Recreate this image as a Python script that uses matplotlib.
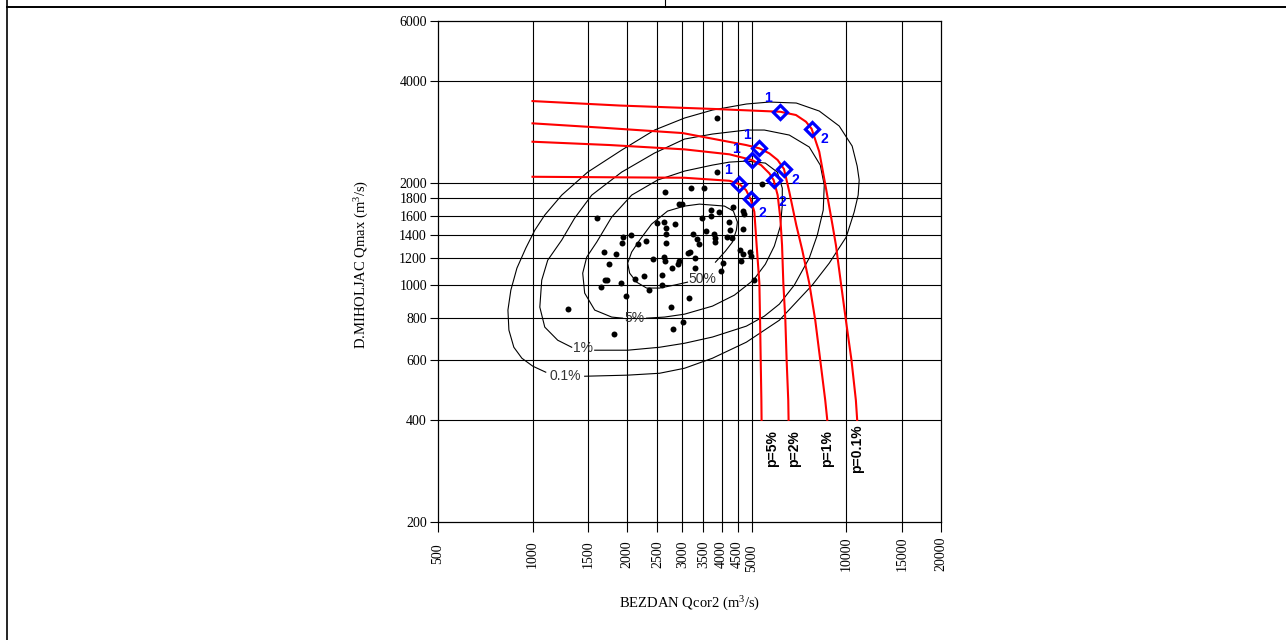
import matplotlib
matplotlib.use("Agg")
import matplotlib.pyplot as plt
from matplotlib.lines import Line2D
from matplotlib.ticker import NullLocator, FixedLocator, FixedFormatter

plt.rcParams['mathtext.fontset'] = 'custom'
plt.rcParams['mathtext.rm'] = 'Liberation Serif'

# ---------------- data ----------------
x_ticks = [500, 1000, 1500, 2000, 2500, 3000, 3500, 4000, 4500, 5000, 10000, 15000, 20000]
y_ticks = [200, 400, 600, 800, 1000, 1200, 1400, 1600, 1800, 2000, 4000, 6000]
x_grid = [1000, 1500, 2000, 2500, 3000, 3500, 4000, 4500, 5000, 10000, 15000]
y_grid = [400, 600, 800, 1000, 1200, 1400, 1600, 1800, 2000, 4000]

# observed pairs (BEZDAN Qcor2, D.MIHOLJAC Qmax)
obs_x = [3881, 3881, 5397, 2634, 3209, 3529, 2938, 3004, 3715, 3939, 4363, 4694, 4728,
         1601, 3477, 3715, 4238, 2484, 2615, 2833, 2653, 4268, 4694, 2653, 3581, 3256,
         3797, 3825, 3825, 3341, 4176, 4331, 1936, 2054, 1923, 2292, 2161, 2653, 3402,
         1685, 1840, 4592, 4694, 4941, 4978, 2412, 2615, 2643, 3117, 3174, 2938, 2911,
         2786, 3304, 3304, 4056, 4609, 1748, 1697, 1729, 1649, 1918, 2115, 2262, 2592,
         3988, 5088, 1990, 2343, 2576, 3146, 2762, 3011, 2798, 1817, 1298]
obs_y = [3105, 2151, 1983, 1878, 1929, 1929, 1731, 1731, 1662, 1640, 1696, 1651, 1618,
         1574, 1574, 1599, 1535, 1521, 1532, 1511, 1470, 1450, 1460, 1412, 1440, 1412,
         1417, 1379, 1340, 1368, 1384, 1374, 1386, 1402, 1331, 1347, 1319, 1328, 1319,
         1250, 1233, 1271, 1233, 1254, 1219, 1192, 1210, 1179, 1244, 1250, 1179, 1150,
         1120, 1200, 1121, 1162, 1175, 1150, 1033, 1033, 988, 1010, 1040, 1062, 1071,
         1100, 1033, 928, 965, 1002, 915, 862, 778, 741, 715, 847]

# joint-probability contours (traced)
c50_x = [3825, 4116, 4331, 4460, 4493, 4363, 4086, 3742, 3402, 3049, 2692, 2394, 2194,
         2069, 2009, 2039, 2146, 2308, 2539, 2833, 3117]
c50_y = [1167, 1258, 1337, 1450, 1532, 1651, 1708, 1719, 1731, 1708, 1651, 1511, 1356,
         1250, 1159, 1083, 1019, 979, 979, 999, 1019]
c5_x = [2308, 2634, 3049, 3742, 4395, 5051, 5515, 5891, 6157, 6246, 6246, 6021, 5515,
        4799, 4238, 3742, 3049, 2502, 2069, 1787, 1601, 1488, 1445, 1466, 1578, 1787, 1936]
c5_y = [798, 804, 820, 866, 933, 1033, 1151, 1302, 1491, 1719, 1929, 2151, 2287,
        2318, 2302, 2256, 2166, 2038, 1840, 1585, 1337, 1208, 1083, 946, 843, 804, 798]
c1_x = [1578, 2009, 2539, 3049, 3742, 4799, 5475, 6113, 6821, 7611, 8072, 8433, 8495,
        8250, 7611, 6574, 5475, 4799, 3742, 3049, 2447, 1923, 1544, 1362, 1239, 1118,
        1070, 1055, 1094, 1203, 1333]
c1_y = [642, 642, 655, 673, 702, 756, 809, 878, 999, 1200, 1402, 1662, 1970,
        2256, 2550, 2766, 2862, 2862, 2785, 2692, 2448, 2151, 1840, 1574, 1356, 1183,
        1033, 860, 751, 687, 655]
c01_x = [1466, 2009, 2539, 3049, 3742, 4799, 6113, 7780, 8811, 9979, 10580, 10895, 10976,
         10815, 10425, 9480, 8190, 6920, 5679, 4799, 3742, 3049, 2447, 1923, 1499, 1239,
         1094, 1017, 952, 892, 853, 835, 841, 872, 925, 1002, 1102]
c01_y = [538, 542, 549, 568, 608, 678, 787, 999, 1159, 1384, 1640, 1840, 2038,
         2240, 2567, 2941, 3256, 3438, 3461, 3415, 3278, 3105, 2862, 2498, 2151, 1840,
         1607, 1450, 1284, 1121, 965, 843, 736, 655, 608, 576, 553]
contour_labels = ['50%', '5%', '1%', '0.1%']
contour_label_x = [3477, 2115, 1445, 1276]
contour_label_y = [1040, 798, 651, 538]

# design curves for return probabilities
p_labels = ['p=5%', 'p=2%', 'p=1%', 'p=0.1%']
p5_x = [1000, 3049, 4239, 4560, 4788, 4952, 5088, 5174, 5279, 5306, 5331, 5357, 5365]
p5_y = [2084, 2070, 2028, 1983, 1904, 1788, 1643, 1310, 1012, 787, 600, 457, 400]
p2_x = [1000, 1761, 3049, 4239, 5003, 5345, 5679, 5861, 6036, 6157, 6234, 6293, 6387,
        6447, 6524, 6540]
p2_y = [2644, 2585, 2510, 2427, 2335, 2256, 2133, 2038, 1840, 1571, 1310, 1012, 787,
        600, 457, 400]
p1_x = [1000, 1637, 3005, 4788, 5279, 5679, 6036, 6324, 6574, 6920, 7230, 7611, 7953,
        8250, 8557, 8685]
p1_y = [2995, 2911, 2804, 2585, 2528, 2443, 2335, 2196, 1882, 1501, 1267, 1012, 787,
        600, 457, 400]
p01_x = [1000, 1894, 3853, 6157, 6905, 7430, 7742, 8190, 8600, 9026, 9255, 9600, 9957,
         10373, 10713, 10815]
p01_y = [3484, 3380, 3300, 3240, 3169, 3028, 2887, 2470, 1931, 1501, 1310, 1012, 787,
         600, 457, 400]
p_label_x = [5803, 6820, 8685, 10815]
p_label_y = [330, 330, 330, 330]

# design points "1" and "2" on each curve (5%, 2%, 1%, 0.1%)
pt1_x = [4560, 5003, 5279, 6157]
pt1_y = [1983, 2335, 2528, 3240]
pt2_x = [4952, 5861, 6324, 7742]
pt2_y = [1788, 2038, 2196, 2887]

# ---------------- styling ----------------
SERIF = 'Liberation Serif'
SANS = 'Liberation Sans'
W, H = 1286, 640
fig = plt.figure(figsize=(W / 100, H / 100), dpi=100)
fig.patch.set_facecolor('white')

# page frame lines
fig.add_artist(Line2D([7 / W, 1.0], [1 - 6.5 / H, 1 - 6.5 / H], color='black', lw=1.4,
                      transform=fig.transFigure))
fig.add_artist(Line2D([7 / W, 7 / W], [0, 1], color='black', lw=1.2,
                      transform=fig.transFigure))
fig.add_artist(Line2D([665 / W, 665 / W], [1 - 6.5 / H, 1], color='black', lw=0.8,
                      transform=fig.transFigure))

L, R, T, B = 438, 941, 21, 522
ax = fig.add_axes([L / W, 1 - B / H, (R - L) / W, (B - T) / H])
ax.set_xscale('log')
ax.set_yscale('log')
ax.set_xlim(500, 20000)
ax.set_ylim(200, 6000)

ax.xaxis.set_major_locator(FixedLocator(x_ticks))
ax.xaxis.set_major_formatter(FixedFormatter([str(v) for v in x_ticks]))
ax.yaxis.set_major_locator(FixedLocator(y_ticks))
ax.yaxis.set_major_formatter(FixedFormatter([str(v) for v in y_ticks]))
ax.xaxis.set_minor_locator(NullLocator())
ax.yaxis.set_minor_locator(NullLocator())
ax.tick_params(axis='x', direction='out', length=7, width=0.8, pad=16, labelsize=10)
ax.tick_params(axis='y', direction='out', length=5.8, width=0.8, pad=2.2, labelsize=10)
for lab in ax.get_xticklabels():
    lab.set_rotation(90)
    lab.set_va('center')
    lab.set_fontfamily(SERIF)
for lab in ax.get_yticklabels():
    lab.set_fontfamily(SERIF)
try:
    ax.xaxis.get_major_ticks()[x_ticks.index(5000)].set_pad(19)
    for lab in ax.get_xticklabels():
        lab.set_rotation(90)
        lab.set_va('center')
        lab.set_fontfamily(SERIF)
except Exception:
    pass
for sp in ax.spines.values():
    sp.set_linewidth(0.9)
    sp.set_color('black')

for gx in x_grid:
    ax.axvline(gx, color='black', lw=0.8, zorder=1)
for gy in y_grid:
    ax.axhline(gy, color='black', lw=0.8, zorder=1)

# contours
for cx, cy in [(c50_x, c50_y), (c5_x, c5_y), (c1_x, c1_y), (c01_x, c01_y)]:
    ax.plot(cx, cy, color='black', lw=0.8, zorder=2, solid_joinstyle='round')
for lbl, lx, ly in zip(contour_labels, contour_label_x, contour_label_y):
    ax.text(lx, ly, lbl, ha='center', va='center', fontsize=10, color='#333333',
            family=SANS, zorder=3)

# observations
ax.plot(obs_x, obs_y, 'o', color='black', ms=4.3, mew=0, zorder=3)

# probability curves
for px_, py_ in [(p5_x, p5_y), (p2_x, p2_y), (p1_x, p1_y), (p01_x, p01_y)]:
    ax.plot(px_, py_, color='red', lw=1.5, zorder=4, solid_joinstyle='round')
for lbl, lx, ly in zip(p_labels, p_label_x, p_label_y):
    ax.text(lx, ly, lbl, rotation=90, ha='center', va='center', fontsize=10,
            fontweight='bold', family=SANS, color='black', zorder=5)

# design points
ax.plot(pt1_x, pt1_y, 'D', ms=7, mfc='none', mec='blue', mew=2.3, zorder=6)
ax.plot(pt2_x, pt2_y, 'D', ms=7, mfc='none', mec='blue', mew=2.3, zorder=6)
off1 = [(-11, 14), (-16, 11), (-12, 13), (-12, 14)]
off2 = [(12, -14), (9, -22), (11, -11), (13, -10)]
for (x, y), o in zip(zip(pt1_x, pt1_y), off1):
    ax.annotate('1', (x, y), xytext=o, textcoords='offset pixels', ha='center',
                va='center', color='blue', fontsize=10, fontweight='bold', family=SANS,
                zorder=7)
for (x, y), o in zip(zip(pt2_x, pt2_y), off2):
    ax.annotate('2', (x, y), xytext=o, textcoords='offset pixels', ha='center',
                va='center', color='blue', fontsize=10, fontweight='bold', family=SANS,
                zorder=7)

ax.set_xlabel('BEZDAN Qcor2 (m$\\mathregular{^3}$/s)', family=SERIF, fontsize=10.5,
              va='center')
ax.xaxis.set_label_coords(0.5, (B - 604) / (B - T))
ax.set_ylabel('D.MIHOLJAC Qmax (m$\\mathregular{^3}$/s)', family=SERIF, fontsize=10.5,
              va='center')
ax.yaxis.set_label_coords((362 - L) / (R - L), (B - 264) / (B - T))

fig.savefig('out.png', dpi=100, facecolor='white')
